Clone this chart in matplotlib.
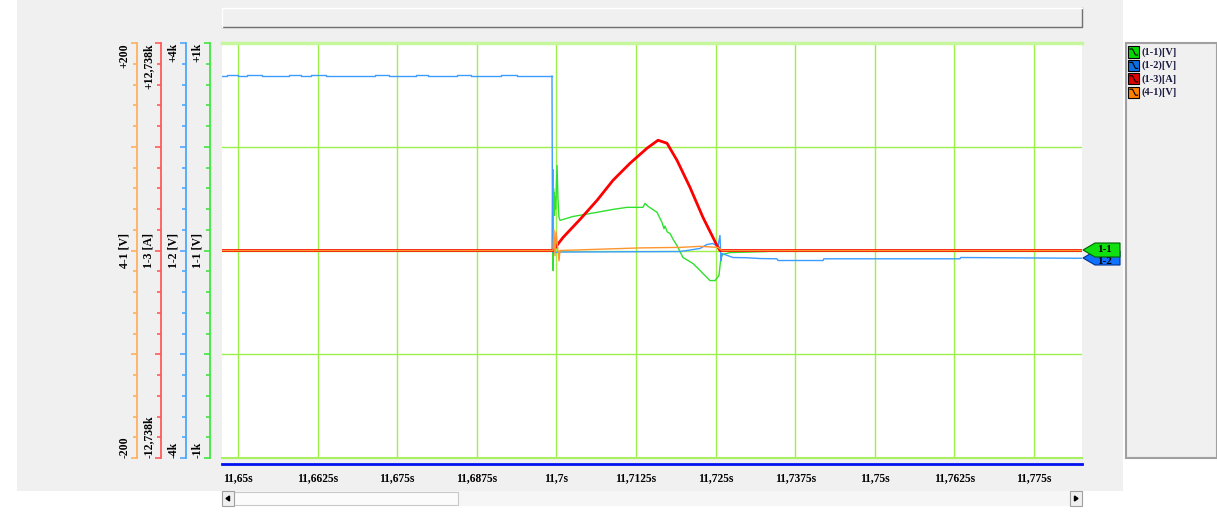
import matplotlib.pyplot as plt
import numpy as np
from matplotlib.patches import Rectangle, Polygon
from matplotlib.lines import Line2D

plt.rcParams['font.family'] = ['Liberation Serif', 'DejaVu Serif']
plt.rcParams['font.weight'] = 'bold'

# ---- data ----
t_view = [11.64749, 11.78254]
xticks = [11.65, 11.6625, 11.675, 11.6875, 11.7, 11.7125, 11.725, 11.7375, 11.75, 11.7625, 11.775]
xtick_labels = ['11,65s', '11,6625s', '11,675s', '11,6875s', '11,7s', '11,7125s',
                '11,725s', '11,7375s', '11,75s', '11,7625s', '11,775s']

ch_names = ['1-1 [V]', '1-2 [V]', '1-3 [A]', '4-1 [V]']
ch_range = [1000, 4000, 12738, 200]
ch_top = ['+1k', '+4k', '+12,738k', '+200']
ch_bot = ['-1k', '-4k', '-12,738k', '-200']
legend_names = ['(1-1)[V]', '(1-2)[V]', '(1-3)[A]', '(4-1)[V]']
marker_names = ['1-1', '1-2']

# 1-1 [V]
green_t = [11.64749, 11.69931, 11.69947, 11.69950, 11.69955, 11.69962, 11.69966, 11.69970,
           11.69978, 11.69986, 11.69994, 11.70010, 11.70025, 11.70041, 11.70057, 11.70261,
           11.70638, 11.70889, 11.71109, 11.71360, 11.71392, 11.71439, 11.71580, 11.71659,
           11.71690, 11.71706, 11.71740, 11.71784, 11.71840, 11.71894, 11.71988, 11.72050,
           11.72145, 11.72220, 11.72302, 11.72412, 11.72490, 11.72553, 11.72584, 11.72616,
           11.72726, 11.73276, 11.73500, 11.78254]
green_v = [0, 0, 390, -97, 300, 180, 280, 170,
           260, 200, 250, 410, 250, 160, 145, 164,
           184, 198, 208, 208, 227, 213, 184, 135,
           105, 118, 90, 82, 50, 24, -34, -45,
           -63, -85, -111, -145, -145, -121, -34, -19,
           -10, -5, 0, 0]

# 1-2 [V], flat part before the event (stepped)
blue_pre_t = [11.64749, 11.64827, 11.65000, 11.65141, 11.65377, 11.65801, 11.65989, 11.66146,
              11.66382, 11.67151, 11.67371, 11.67795, 11.67984, 11.68439, 11.68659, 11.69130,
              11.69381, 11.69931]
blue_pre_v = [3360, 3378, 3360, 3378, 3360, 3378, 3360, 3378,
              3360, 3378, 3360, 3378, 3360, 3378, 3360, 3378,
              3360, 3360]
blue_t = [11.69931, 11.69940, 11.69947, 11.70057, 11.71941, 11.72255, 11.72365, 11.72459,
          11.72537, 11.72569, 11.72584, 11.72600, 11.72773, 11.72993, 11.73197, 11.73464,
          11.73480, 11.74187, 11.74200, 11.76338, 11.76350, 11.78254]
blue_v = [3360, 0, -40, -30, -20, 39, 116, 135,
          77, 290, -200, -58, -135, -140, -155, -160,
          -193, -193, -160, -160, -135, -150]

# 1-3 [A]
red_t = [11.64749, 11.69947, 11.70104, 11.70371, 11.70638, 11.70889, 11.71156, 11.71423,
         11.71596, 11.71737, 11.71894, 11.72098, 11.72302, 11.72522, 11.72569, 11.78254]
red_v = [0, 0, 800, 1908, 3077, 4308, 5354, 6277,
         6769, 6585, 5538, 3877, 2031, 308, 0, 0]

# 4-1 [V]
orange_t = [11.64749, 11.69947, 11.69962, 11.69978, 11.69994, 11.70025, 11.70041, 11.70057,
            11.71313, 11.71941, 11.72255, 11.72537, 11.72600, 11.78254]
orange_v = [0, 0, 20, -5, 18, 0, -10, 0,
            2.5, 3, 4, 3, 0, 0]

# ---- styling ----
W, H = 1217, 516
PT = 72 / 100  # points per pixel at dpi 100
axis_cols = ['#3ee83e', '#4ea6ff', '#ff5a5a', '#ffb060']
trace_cols = ['#2fe02f', '#3c9cff', '#ff0000', '#ff9530']
icon_cols = ['#00d800', '#0a6fe0', '#e00000', '#ff8000']
offsets = [12, 36, 61, 85]


def fxy(x, y):
    return (x / W, 1 - y / H)


def rect(x0, y0, x1, y1):
    return [x0 / W, 1 - y1 / H, (x1 - x0) / W, (y1 - y0) / H]


def box(x0, y0, x1, y1, **kw):
    fig.add_artist(Rectangle(fxy(x0, y1), (x1 - x0) / W, (y1 - y0) / H,
                             transform=fig.transFigure, **kw))


fig = plt.figure(figsize=(W / 100, H / 100), dpi=100, facecolor='white')

# window chrome
box(17, 0, 1123, 491, facecolor='#f0f0f0', edgecolor='none', zorder=-10)
box(222, 8, 1082, 27, facecolor='#f0f0f0', edgecolor='none', zorder=-5)
fig.add_artist(Line2D([222 / W, 1082 / W, 1082 / W], [1 - 27 / H, 1 - 27 / H, 1 - 8 / H],
                      transform=fig.transFigure, color='#707070', lw=1))
fig.add_artist(Line2D([222 / W, 222 / W, 1082 / W], [1 - 27 / H, 1 - 8 / H, 1 - 8 / H],
                      transform=fig.transFigure, color='white', lw=1))
box(1126, 43, 1217, 458, facecolor='#f0f0f0', edgecolor='#a0a0a0', lw=1.5, zorder=-5)

# scroll bar
box(222, 491, 1082, 506, facecolor='#f6f6f6', edgecolor='none', zorder=-5)
box(234, 492, 458, 505, facecolor='#fbfbfb', edgecolor='#c8c8c8', lw=0.8, zorder=-4)
box(222, 491, 234, 506, facecolor='#f0f0f0', edgecolor='#a0a0a0', lw=0.8, zorder=-4)
box(1070, 491, 1082, 506, facecolor='#f0f0f0', edgecolor='#a0a0a0', lw=0.8, zorder=-4)
fig.add_artist(Polygon([fxy(226, 498.5), fxy(229.5, 496), fxy(229.5, 501)], closed=True,
                       transform=fig.transFigure, color='black'))
fig.add_artist(Polygon([fxy(1078, 498.5), fxy(1074.5, 496), fxy(1074.5, 501)], closed=True,
                       transform=fig.transFigure, color='black'))

# main grid axes
ax = fig.add_axes(rect(222, 43, 1082, 458))
ax.set_facecolor('white')
ax.set_xlim(t_view)
ax.set_ylim(-1, 1)
ax.set_yticks([-0.5, 0, 0.5])
ax.set_xticks(xticks, xtick_labels)
ax.grid(True, color='#9df04c', lw=1)
ax.axhline(-1, color='#a8f060', lw=1.5, clip_on=False)
ax.axhline(1, color='#c6f79c', lw=2.5, clip_on=False)
ax.tick_params(axis='y', length=0, labelleft=False)
ax.tick_params(axis='x', length=0, pad=8 * PT, labelsize=8.3, labelcolor='black')
for s in ['left', 'right', 'top']:
    ax.spines[s].set_visible(False)
ax.spines['bottom'].set_position(('outward', 6 * PT))
ax.spines['bottom'].set_color('#0010f0')
ax.spines['bottom'].set_linewidth(2)

# one overlay axes per channel, each with its own scale
traces = [(green_t, green_v), (blue_t, blue_v), (red_t, red_v), (orange_t, orange_v)]
widths = [1, 1, 2, 1]
for i in range(4):
    r = ch_range[i]
    cax = fig.add_axes(rect(222, 43, 1082, 458), sharex=ax, label='ch%d' % i)
    cax.patch.set_visible(False)
    cax.set_ylim(-r, r)
    cax.xaxis.set_visible(False)
    for s in ['top', 'right', 'bottom']:
        cax.spines[s].set_visible(False)
    cax.spines['left'].set_position(('outward', offsets[i] * PT))
    cax.spines['left'].set_color(axis_cols[i])
    cax.spines['left'].set_linewidth(1.3)
    cax.set_yticks(np.linspace(-r, r, 5), [ch_bot[i], '', ch_names[i], '', ch_top[i]])
    cax.set_yticks(np.linspace(-r, r, 21), minor=True)
    cax.tick_params(axis='y', which='major', length=6 * PT, width=1.2, color=axis_cols[i],
                    labelrotation=90, pad=0.5 * PT, labelsize=8.5)
    cax.tick_params(axis='y', which='minor', length=4 * PT, width=1.2, color=axis_cols[i])
    for k, lab in enumerate(cax.get_yticklabels()):
        lab.set_verticalalignment({0: 'bottom', 4: 'top'}.get(k, 'center'))
    if i == 1:
        cax.plot(blue_pre_t, blue_pre_v, color=trace_cols[i], lw=1, drawstyle='steps-post')
    cax.plot(traces[i][0], traces[i][1], color=trace_cols[i], lw=widths[i])

# channel markers at the right edge (1-2 sits under 1-1)
for name, y0, ty, fc, ec in [(marker_names[1], 258, 262, '#1070ff', '#003090'),
                             (marker_names[0], 250, 249, '#10e010', '#006000')]:
    pts = [fxy(1083, y0), fxy(1095, y0 - 7), fxy(1120, y0 - 7), fxy(1120, y0 + 7), fxy(1095, y0 + 7)]
    fig.add_artist(Polygon(pts, closed=True, transform=fig.transFigure,
                           facecolor=fc, edgecolor=ec, lw=0.8))
    fig.text(*fxy(1105, ty), name, ha='center', va='center', fontsize=8, color='black')

# legend
for i in range(4):
    yc = 52 + i * 13.4
    box(1128, yc - 5.5, 1139, yc + 5.5, facecolor=icon_cols[i], edgecolor='black', lw=0.8)
    fig.add_artist(Line2D([1130 / W, 1132.5 / W, 1134 / W, 1135.5 / W, 1137.5 / W],
                          [1 - (yc - 3) / H, 1 - (yc - 3) / H, 1 - yc / H, 1 - (yc + 3) / H, 1 - (yc + 3) / H],
                          transform=fig.transFigure, color='black', lw=0.8))
    fig.text(1142 / W, 1 - yc / H, legend_names[i], ha='left', va='center', fontsize=7.5,
             color='#1a1a40')

fig.savefig('out.png', dpi=100, facecolor='white')
